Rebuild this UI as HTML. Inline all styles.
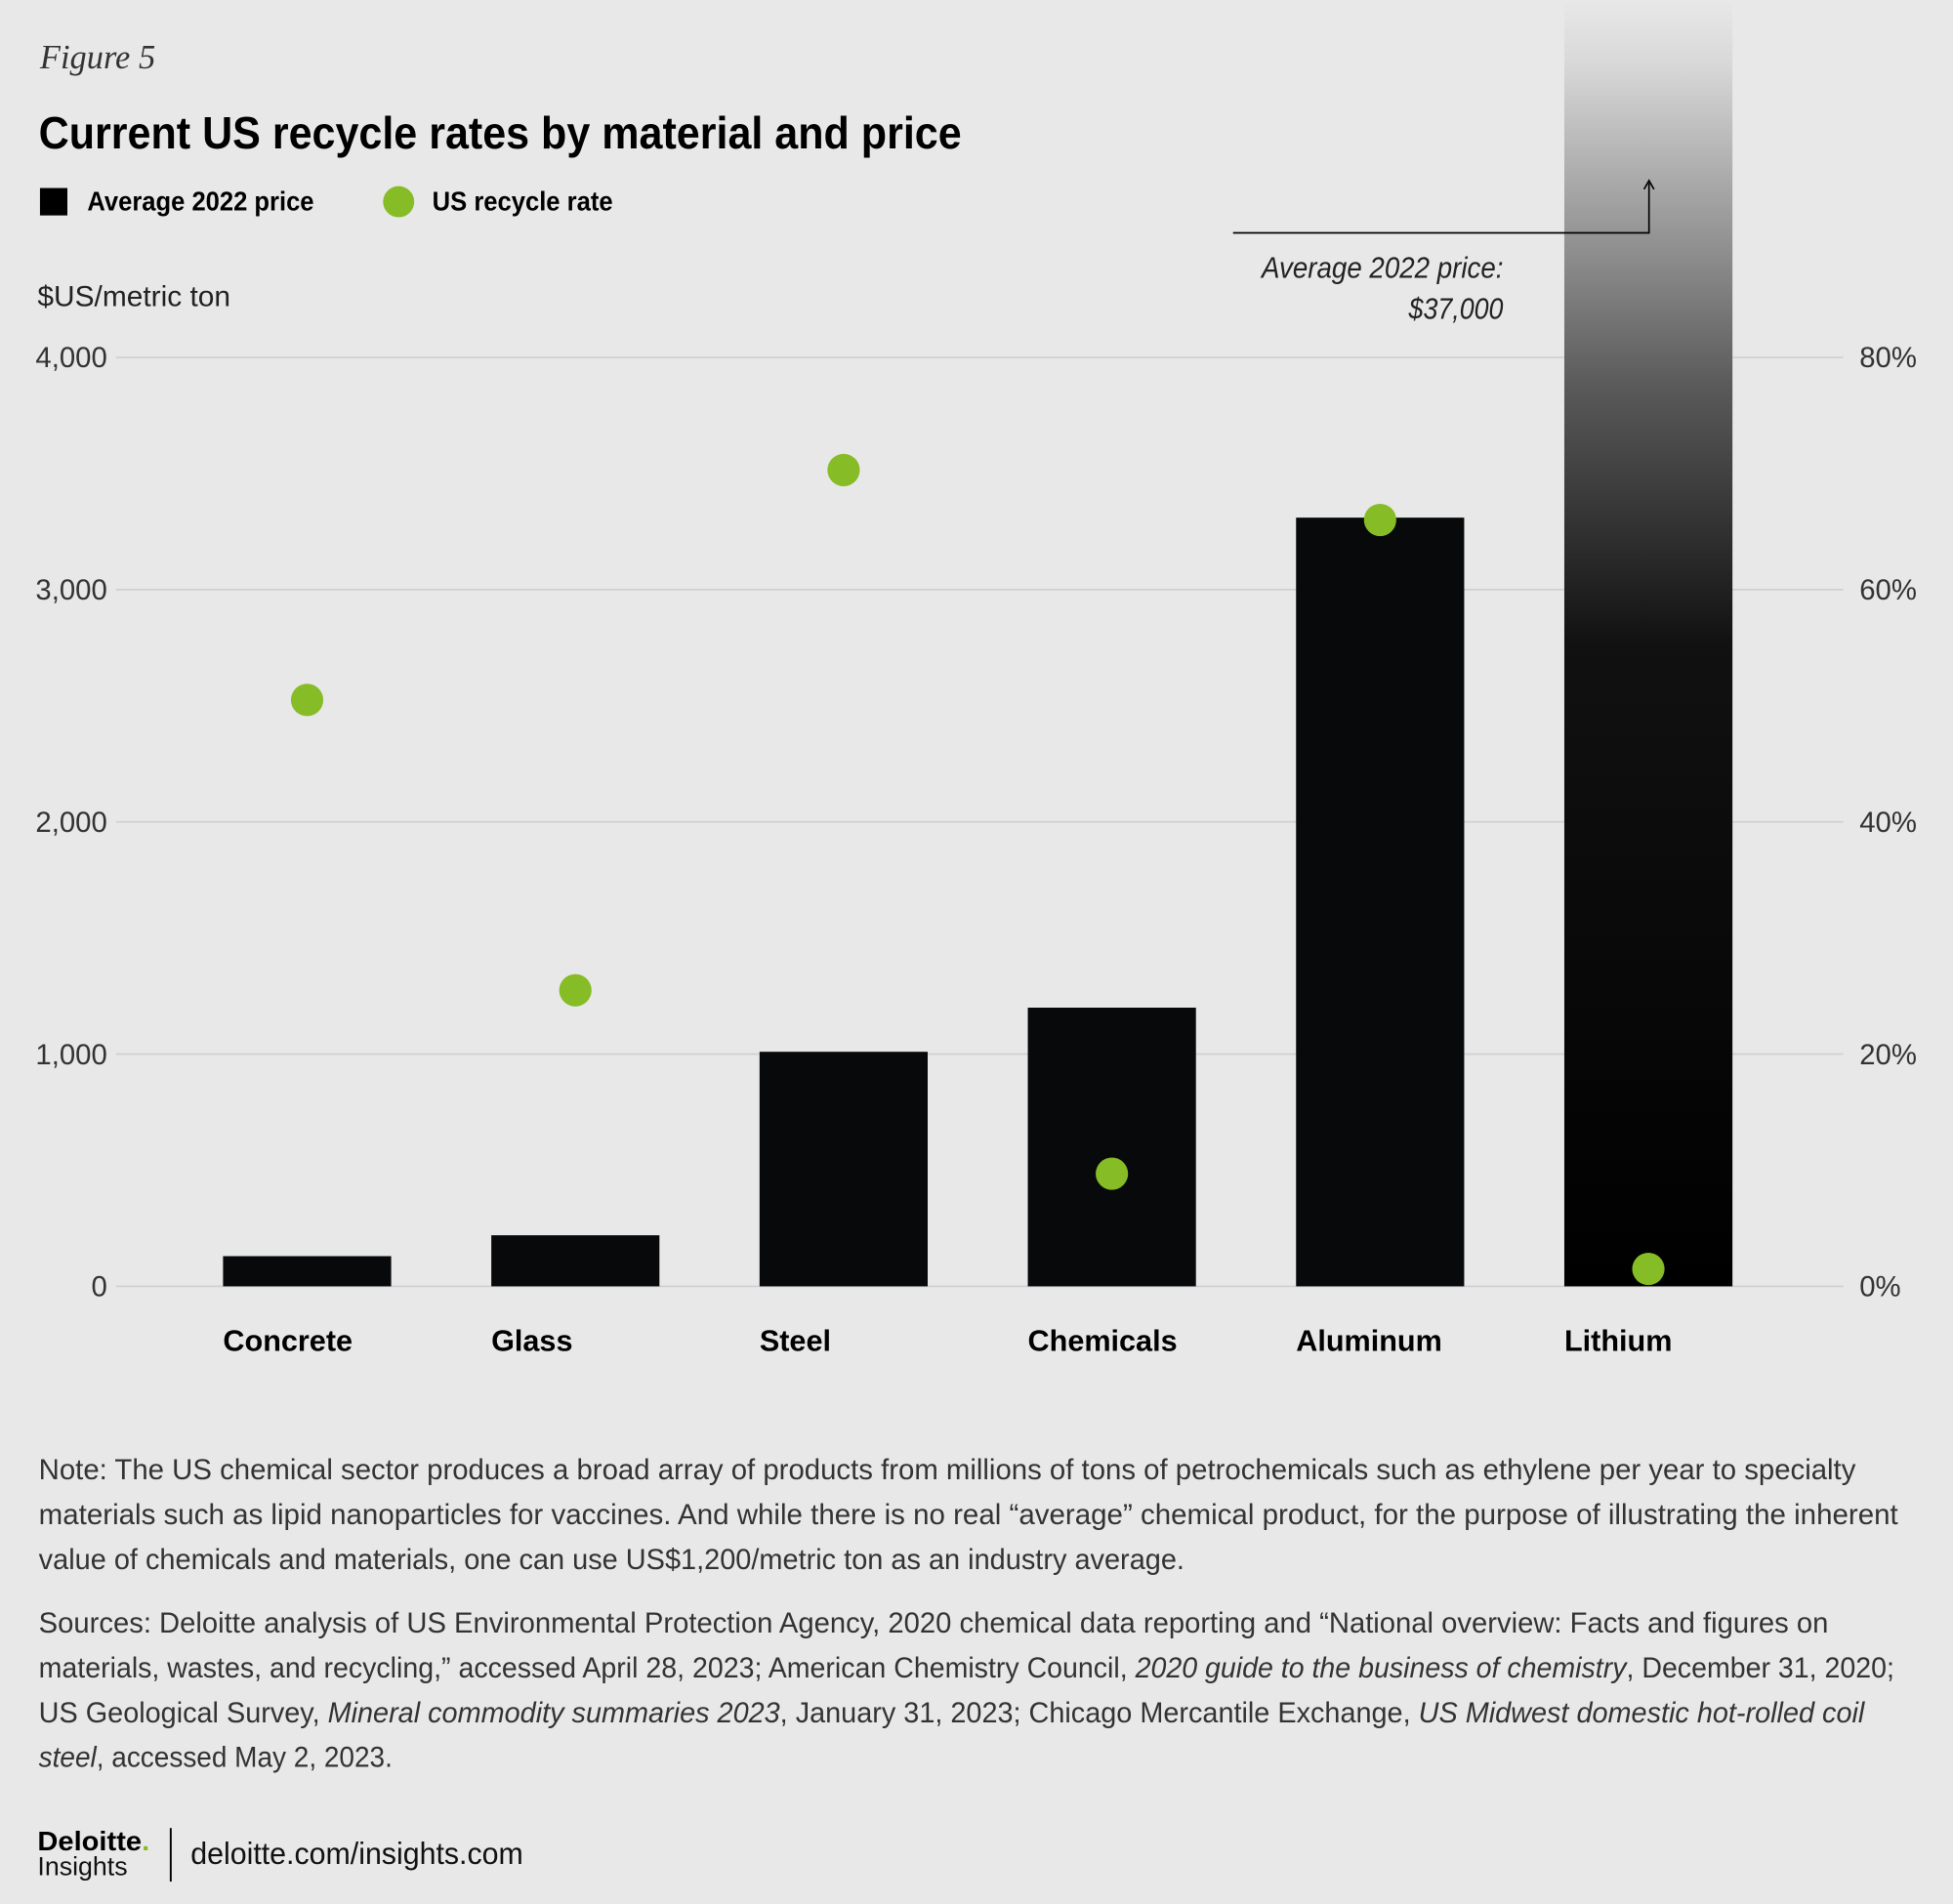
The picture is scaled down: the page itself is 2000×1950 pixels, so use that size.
<!DOCTYPE html>
<html><head><meta charset="utf-8"><style>
html,body{margin:0;padding:0;background:#e8e8e9;}
svg{display:block;font-family:"Liberation Sans",sans-serif;}
</style></head><body>
<svg id="chart" width="2000" height="1950" viewBox="0 0 1568 1529" xmlns="http://www.w3.org/2000/svg">
<defs>
<linearGradient id="lith" gradientUnits="userSpaceOnUse" x1="0" y1="0" x2="0" y2="1033">
<stop offset="0" stop-color="#e8e8e9"/>
<stop offset="0.05" stop-color="#d8d8d8"/>
<stop offset="0.15" stop-color="#a5a5a6"/>
<stop offset="0.3" stop-color="#5a5a5b"/>
<stop offset="0.5" stop-color="#111"/>
<stop offset="1" stop-color="#000"/>
</linearGradient>
</defs>
<rect width="1568" height="1529" fill="#e8e8e9"/>
<text x="32" y="55" font-family="Liberation Serif,serif" font-style="italic" font-size="27" fill="#333">Figure 5</text>
<text x="31" y="119" font-weight="bold" font-size="36" fill="#000" textLength="741" lengthAdjust="spacingAndGlyphs">Current US recycle rates by material and price</text>
<g>
<rect x="32" y="151" width="22" height="22" fill="#000"/>
<text x="70" y="169" font-weight="bold" font-size="22" textLength="182" lengthAdjust="spacingAndGlyphs">Average 2022 price</text>
<circle cx="320" cy="162" r="12.5" fill="#86bc25"/>
<text x="347" y="169" font-weight="bold" font-size="22" textLength="145" lengthAdjust="spacingAndGlyphs">US recycle rate</text>
</g>
<text x="30" y="246" font-size="23" fill="#222" textLength="155" lengthAdjust="spacingAndGlyphs">$US/metric ton</text>
<g id="grid"></g><g id="bars"></g><g id="dots"></g><g id="labels"></g>
<g>
<path d="M990 187 H1324 V147" fill="none" stroke="#000" stroke-width="1.3"/>
<path d="M1320 152 L1324 145 L1328 152" fill="none" stroke="#000" stroke-width="1.3"/>
<text x="1013" y="223" font-style="italic" font-size="24" fill="#222" textLength="194" lengthAdjust="spacingAndGlyphs">Average 2022 price:</text>
<text x="1131" y="256" font-style="italic" font-size="24" fill="#222" textLength="76" lengthAdjust="spacingAndGlyphs">$37,000</text>
</g>
<g font-size="23" fill="#333">
<text x="31" y="1188" textLength="1459" lengthAdjust="spacingAndGlyphs">Note: The US chemical sector produces a broad array of products from millions of tons of petrochemicals such as ethylene per year to specialty</text>
<text x="31" y="1224" textLength="1493" lengthAdjust="spacingAndGlyphs">materials such as lipid nanoparticles for vaccines. And while there is no real “average” chemical product, for the purpose of illustrating the inherent</text>
<text x="31" y="1260" textLength="920" lengthAdjust="spacingAndGlyphs">value of chemicals and materials, one can use US$1,200/metric ton as an industry average.</text>
<text x="31" y="1311" textLength="1437" lengthAdjust="spacingAndGlyphs">Sources: Deloitte analysis of US Environmental Protection Agency, 2020 chemical data reporting and “National overview: Facts and figures on</text>
<text x="31" y="1347" textLength="1490" lengthAdjust="spacingAndGlyphs">materials, wastes, and recycling,” accessed April 28, 2023; American Chemistry Council, <tspan font-style="italic">2020 guide to the business of chemistry</tspan>, December 31, 2020;</text>
<text x="31" y="1383" textLength="1466" lengthAdjust="spacingAndGlyphs">US Geological Survey, <tspan font-style="italic">Mineral commodity summaries 2023</tspan>, January 31, 2023; Chicago Mercantile Exchange, <tspan font-style="italic">US Midwest domestic hot-rolled coil</tspan></text>
<text x="31" y="1419" textLength="284" lengthAdjust="spacingAndGlyphs"><tspan font-style="italic">steel</tspan>, accessed May 2, 2023.</text>
</g>
<g>
<text x="30" y="1486" font-weight="bold" font-size="22" textLength="90" lengthAdjust="spacingAndGlyphs">Deloitte<tspan fill="#86bc25">.</tspan></text>
<text x="30" y="1506" font-size="21" fill="#111">Insights</text>
<line x1="137" y1="1468" x2="137" y2="1511" stroke="#000" stroke-width="1.5"/>
<text x="153" y="1497" font-size="25" fill="#111" textLength="267" lengthAdjust="spacingAndGlyphs">deloitte.com/insights.com</text>
</g>
</svg>
<script>
const categories = ["Concrete","Glass","Steel","Chemicals","Aluminum","Lithium"];
const prices = [130, 220, 1010, 1200, 3310, 37000];
const recycleRates = [50.5, 25.5, 70.3, 9.7, 66, 1.5];
const leftTicks = [0, 1000, 2000, 3000, 4000];
const leftTickLabels = ["0","1,000","2,000","3,000","4,000"];
const rightTickLabels = ["0%","20%","40%","60%","80%"];

const NS = "http://www.w3.org/2000/svg";
const y0 = 1033, yTop = 287, maxV = 4000;
function yPrice(v){ return y0 - (v / maxV) * (y0 - yTop); }
function yRate(r){ return y0 - (r / 80) * (y0 - yTop); }
function xBand(i){ return 179 + i * 215.4; }
const bw = 135;
function mk(tag, attrs, parent){ const e = document.createElementNS(NS, tag); for (const k in attrs) e.setAttribute(k, attrs[k]); parent.appendChild(e); return e; }

const grid = document.getElementById('grid');
leftTicks.forEach((t, i) => {
  const y = yPrice(t);
  const l = mk('line', {x1: 93, x2: 1480, y1: y, y2: y, stroke: '#cfcfd1', 'stroke-width': 1.3}, grid);
  
  
  const a = mk('text', {x: 86, y: y + 8, 'text-anchor': 'end', 'font-size': 23, fill: '#333'}, grid);
  a.textContent = leftTickLabels[i];
  
  
  const b = mk('text', {x: 1493, y: y + 8, 'font-size': 23, fill: '#333'}, grid);
  b.textContent = rightTickLabels[i];
  
  
});

const bars = document.getElementById('bars');
const dots = document.getElementById('dots');
const labels = document.getElementById('labels');
categories.forEach((c, i) => {
  const x = xBand(i);
  const over = prices[i] > maxV;
  const top = over ? 0 : yPrice(prices[i]);
  const r = mk('rect', {x: x, y: top, width: bw, height: y0 - top, fill: over ? 'url(#lith)' : '#08090b'}, bars);
  
  
  const d = mk('circle', {cx: x + bw / 2, cy: yRate(recycleRates[i]), r: 13, fill: '#86bc25'}, dots);
  
  
  const t = mk('text', {x: x, y: 1085, 'font-weight': 'bold', 'font-size': 24, fill: '#000'}, labels);
  t.textContent = c;
  
  
});
</script>
</body></html>
